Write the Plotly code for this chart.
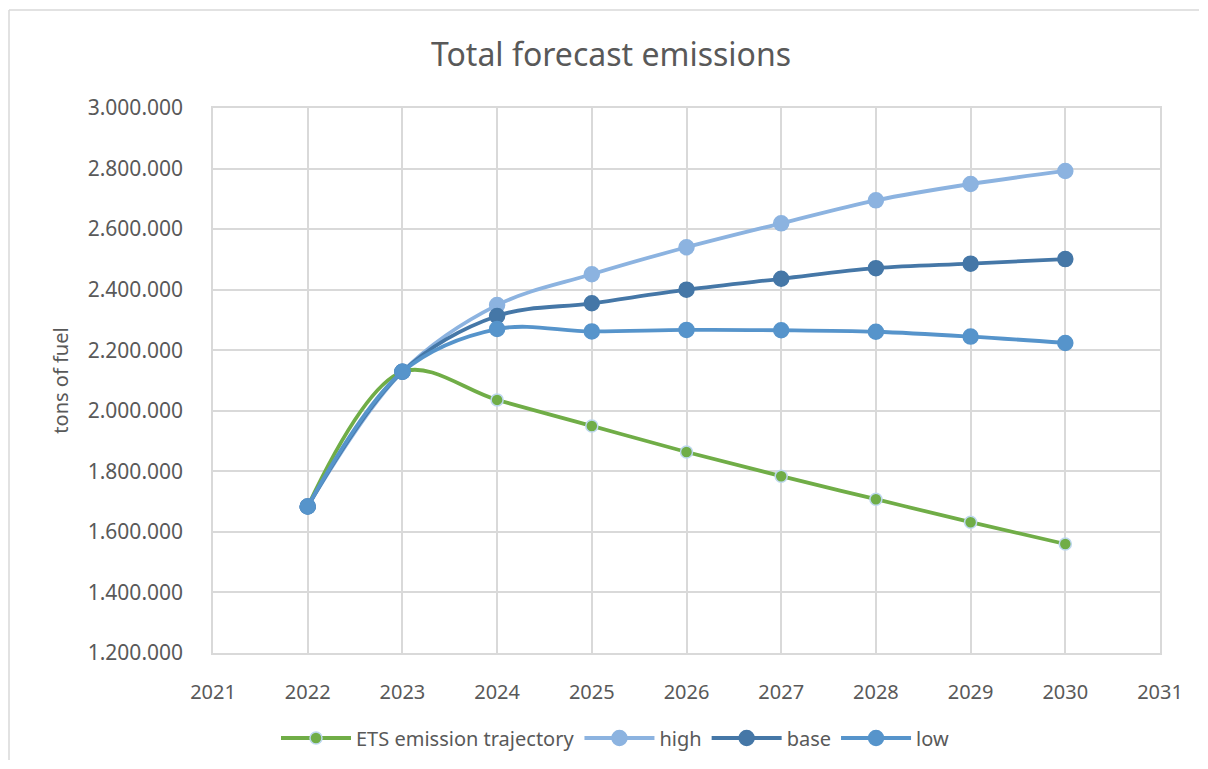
import plotly.graph_objects as go

years = [2022, 2023, 2024, 2025, 2026, 2027, 2028, 2029, 2030]
ets = [1684000, 2129000, 2036000, 1950000, 1864000, 1784000, 1708000, 1632000, 1560000]
high = [1684000, 2129000, 2349000, 2451000, 2540000, 2619000, 2695000, 2749000, 2792000]
base = [1684000, 2129000, 2313000, 2355000, 2400000, 2436000, 2471000, 2486000, 2501000]
low = [1684000, 2129000, 2270000, 2262000, 2267000, 2266000, 2261000, 2245000, 2224000]

series = [
    ("ETS emission trajectory", ets, "#70AD47", 12, "#BDD7EE"),
    ("high", high, "#8CB3E0", 15, "#8CB3E0"),
    ("base", base, "#4577A7", 15, "#4577A7"),
    ("low", low, "#5694CB", 15, "#5694CB"),
]

fig = go.Figure()
for name, vals, col, ms, mlc in series:
    fig.add_trace(go.Scatter(
        x=years, y=vals, name=name, mode="lines+markers",
        line=dict(color=col, width=3.8, shape="spline", smoothing=1.0),
        marker=dict(color=col, size=ms, line=dict(color=mlc, width=1.5)),
    ))

FONT = "Noto Sans"
GRID = "#D9D9D9"
TXT = "#595959"

W, H = 1192, 753
# page has an 8px body margin; plot area sits at page x 213..1160, y 108..653
fig.update_layout(
    width=W, height=H,
    margin=dict(l=205, r=W - 205 - 947, t=100, b=H - 100 - 545, autoexpand=False),
    paper_bgcolor="white", plot_bgcolor="white",
    separators=",.",
    title=dict(text="Total forecast emissions", x=(611 - 8) / W, xref="container",
               xanchor="center", y=1 - 47 / H, yanchor="middle",
               font=dict(family=FONT, size=32, color=TXT)),
    font=dict(family=FONT, color=TXT),
    showlegend=True,
    legend=dict(orientation="h", x=(615 - 213) / 947, xanchor="center",
                yref="container", y=1 - (738 - 8) / H, yanchor="middle",
                font=dict(family=FONT, size=20, color=TXT),
                itemwidth=70, tracegroupgap=0),
    xaxis=dict(range=[2021, 2031], dtick=1, tick0=2021, showgrid=True, gridcolor=GRID,
               gridwidth=1.5, showline=True, linecolor=GRID, linewidth=1.5, mirror=True,
               zeroline=False, ticks="", ticklabelstandoff=20,
               tickfont=dict(family=FONT, size=20, color=TXT)),
    yaxis=dict(range=[1200000, 3000000], dtick=200000, tick0=1200000, tickformat=",d",
               showgrid=True, gridcolor=GRID, gridwidth=1.5, showline=True, linecolor=GRID,
               linewidth=1.5, mirror=True, zeroline=False, ticks="", ticklabelstandoff=24,
               tickfont=dict(family=FONT, size=21, color=TXT),
               title=dict(text="tons of fuel", standoff=14,
                          font=dict(family=FONT, size=20, color=TXT))),
)

# outer chart border (only left and top edges are visible in the frame), kept inside the figure
bx0 = (9 - 213) / 947
by1 = (653 - 10) / 545
fig.add_shape(type="line", xref="paper", yref="paper", x0=bx0, x1=bx0,
              y0=(653 - 760) / 545, y1=by1, line=dict(color=GRID, width=1.5), layer="below")
fig.add_shape(type="line", xref="paper", yref="paper", x0=bx0, x1=(1199 - 213) / 947,
              y0=by1, y1=by1, line=dict(color=GRID, width=1.5), layer="below")

fig.write_html("out.html")
